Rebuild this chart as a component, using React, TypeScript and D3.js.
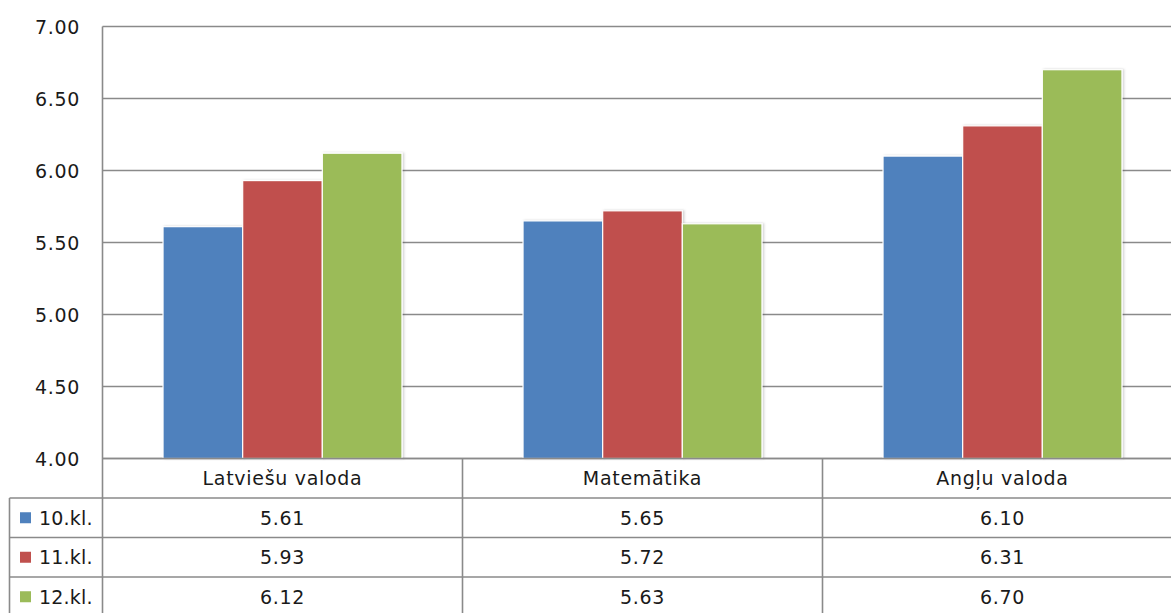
import * as d3 from 'd3'

const categories = ['Latviešu valoda', 'Matemātika', 'Angļu valoda']
const seriesNames = ['10.kl.', '11.kl.', '12.kl.']
const values10 = [5.61, 5.65, 6.1]
const values11 = [5.93, 5.72, 6.31]
const values12 = [6.12, 5.63, 6.7]
const colors = ['#4f81bd', '#c0504d', '#9bbb59']
const yTicks = [4, 4.5, 5, 5.5, 6, 6.5, 7]

const W = 1171
const H = 613
const left = 102.5
const top = 26.5
const bottom = 458.5
const rowH = 39.5
const legendLeft = 9.5
const font = '"DejaVu Sans", Verdana, sans-serif'

export default function App() {
  const series = [values10, values11, values12]

  const x0 = d3.scaleBand<string>().domain(categories).range([left, left + 1080])
  const x1 = d3
    .scaleBand<string>()
    .domain(seriesNames)
    .range([0, x0.bandwidth()])
    .paddingInner(0)
    .paddingOuter(0.76)
  const y = d3.scaleLinear().domain([4, 7]).range([bottom, top])

  const grid = '#8a8a8a'
  const rows = [bottom, bottom + rowH, bottom + 2 * rowH, bottom + 3 * rowH, bottom + 4 * rowH]
  const txt = { fontSize: 19, fill: '#1a1a1a', letterSpacing: 0.7 }

  return (
    <svg
      width={W}
      height={H}
      style={{ position: 'absolute', left: 0, top: 0, background: '#fff' }}
      fontFamily={font}
    >
      <defs>
        <filter id="sh" x="-10%" y="-10%" width="130%" height="120%">
          <feDropShadow dx="1.5" dy="0" stdDeviation="1.2" floodColor="#000" floodOpacity="0.18" />
        </filter>
      </defs>
      <rect width={W} height={H} fill="#fff" />

      {/* gridlines */}
      {yTicks.map((t) => (
        <line key={t} x1={left} x2={W} y1={y(t)} y2={y(t)} stroke={grid} strokeWidth={1.6} />
      ))}
      {yTicks.map((t) => (
        <text key={'l' + t} x={80} y={y(t)} textAnchor="end" dominantBaseline="central" {...txt}>
          {t.toFixed(2)}
        </text>
      ))}

      {/* bars */}
      {categories.map((c, ci) => (
        <g key={c} transform={`translate(${x0(c)},0)`}>
          {seriesNames.map((s, si) => (
            <rect
              key={s}
              x={x1(s)}
              y={y(series[si][ci])}
              width={x1.bandwidth()}
              height={bottom - y(series[si][ci])}
              fill={colors[si]}
              stroke="#fff"
              strokeWidth={1.2}
              filter="url(#sh)"
            />
          ))}
        </g>
      ))}

      {/* data table */}
      <line x1={left} x2={W} y1={rows[0]} y2={rows[0]} stroke={grid} strokeWidth={1.6} />
      {rows.slice(1).map((r, i) => (
        <line key={i} x1={legendLeft} x2={W} y1={r} y2={r} stroke={grid} strokeWidth={1.6} />
      ))}
      <line x1={left} x2={left} y1={top} y2={H} stroke={grid} strokeWidth={1.6} />
      <line x1={legendLeft} x2={legendLeft} y1={rows[1]} y2={H} stroke={grid} strokeWidth={1.6} />
      {categories.slice(1).map((c) => (
        <line key={c} x1={x0(c)} x2={x0(c)} y1={bottom} y2={H} stroke={grid} strokeWidth={1.6} />
      ))}

      {categories.map((c) => (
        <text
          key={c}
          x={(x0(c) as number) + x0.bandwidth() / 2}
          y={bottom + rowH / 2}
          textAnchor="middle"
          dominantBaseline="central"
          {...txt}
        >
          {c}
        </text>
      ))}

      {seriesNames.map((s, si) => (
        <g key={s}>
          <rect x={20} y={rows[si + 1] + rowH / 2 - 5.5} width={11} height={11} fill={colors[si]} />
          <text x={39} y={rows[si + 1] + rowH / 2} dominantBaseline="central" {...txt} letterSpacing={0.2}>
            {s}
          </text>
          {categories.map((c, ci) => (
            <text
              key={c}
              x={(x0(c) as number) + x0.bandwidth() / 2}
              y={rows[si + 1] + rowH / 2}
              textAnchor="middle"
              dominantBaseline="central"
              {...txt}
            >
              {series[si][ci].toFixed(2)}
            </text>
          ))}
        </g>
      ))}
    </svg>
  )
}
